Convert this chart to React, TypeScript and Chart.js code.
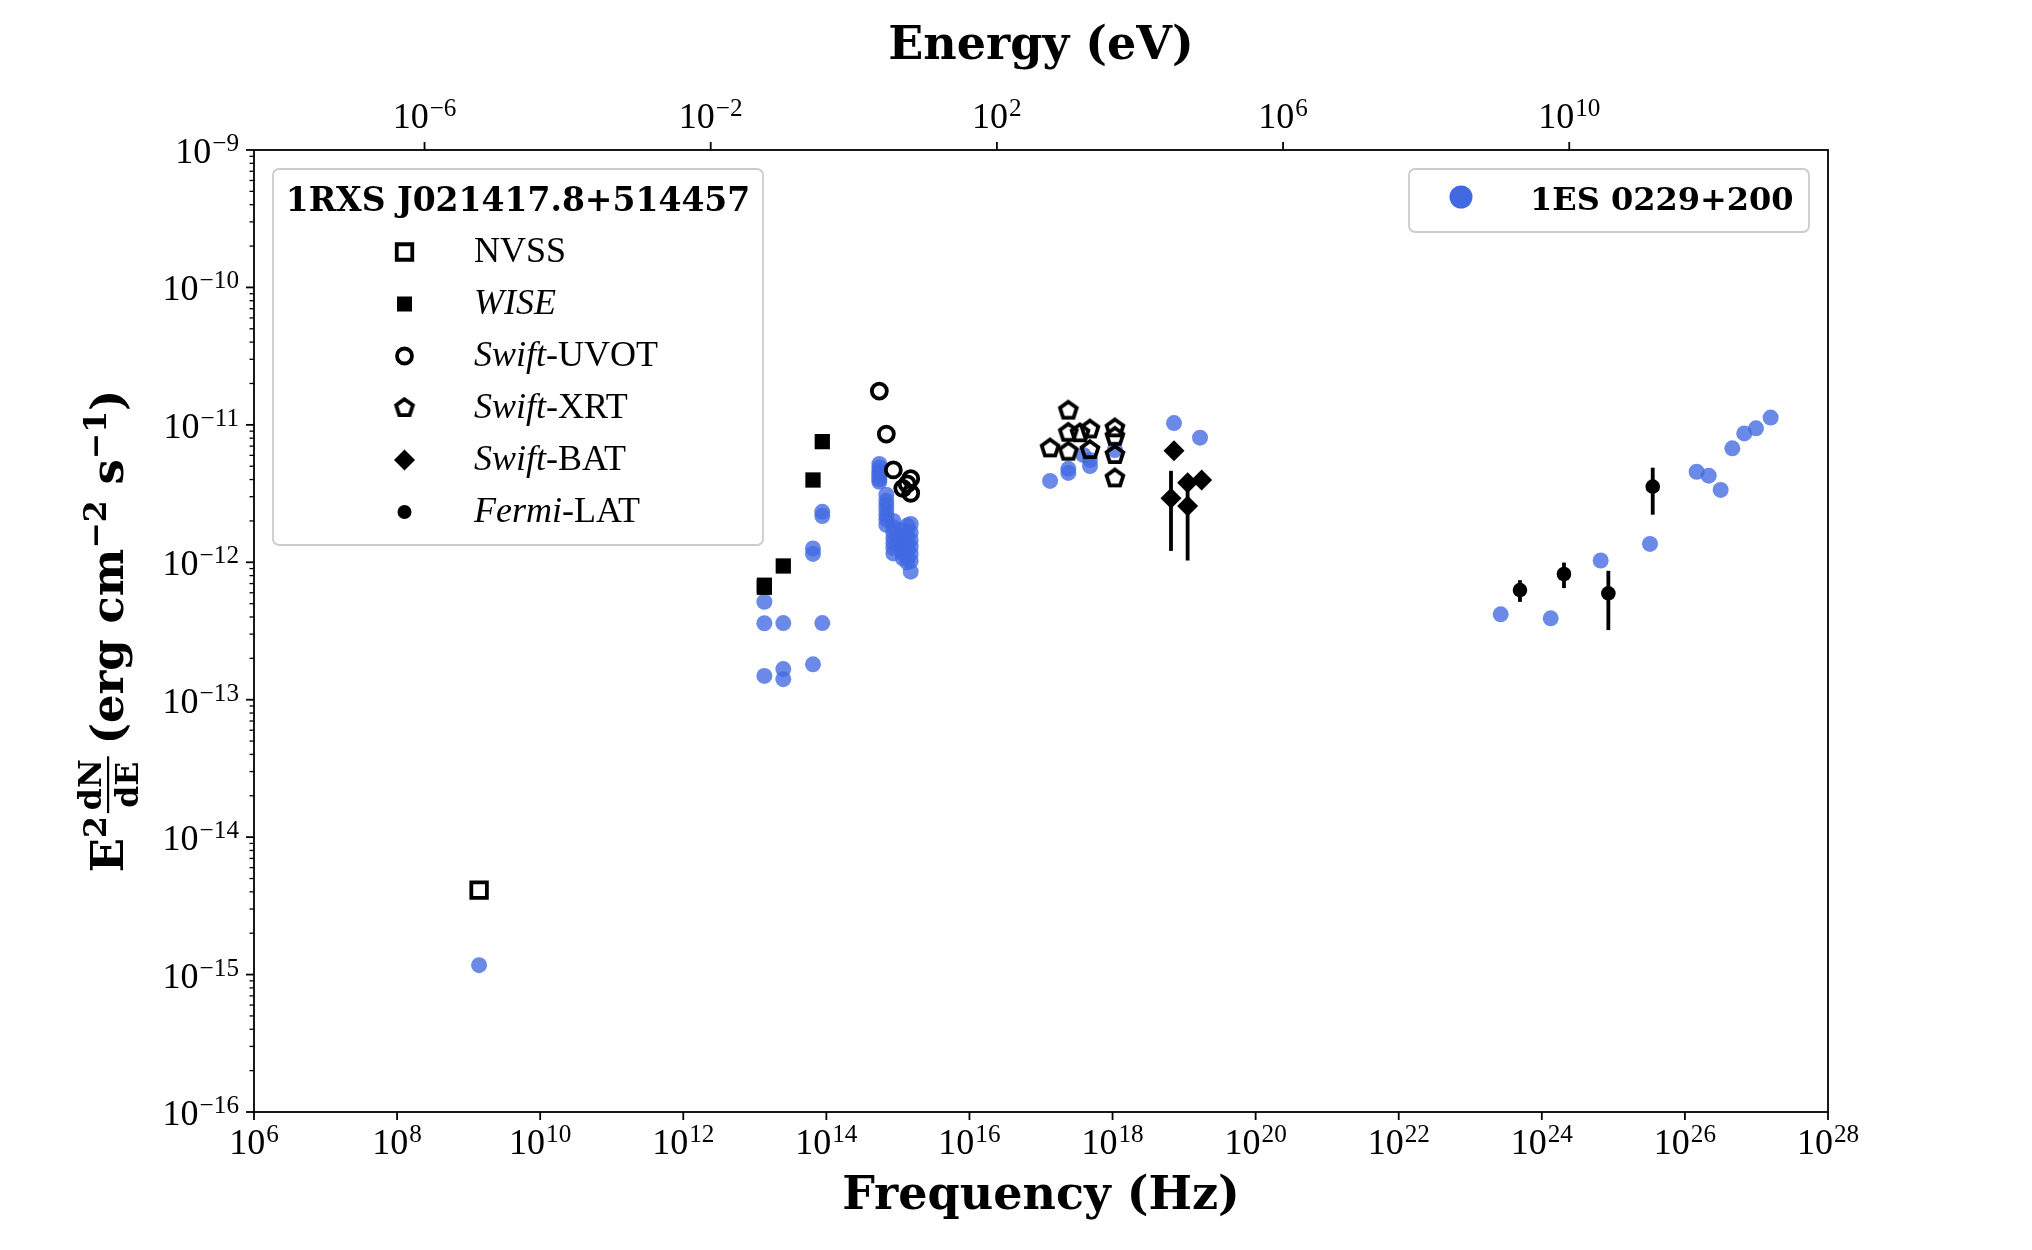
import React, { useEffect, useRef } from 'react';
import { Chart, registerables } from 'chart.js';

Chart.register(...registerables);

// Planck constant in eV s, links the frequency axis to the photon-energy axis
const H_EV = 4.135667696e-15;

// Tick exponents (powers of ten)
const freqTickExp = [6, 8, 10, 12, 14, 16, 18, 20, 22, 24, 26, 28];
const energyTickExp = [-6, -2, 2, 6, 10];
const fluxTickExp = [-16, -15, -14, -13, -12, -11, -10, -9];

// 1RXS J021417.8+514457 — frequency (Hz) and E^2 dN/dE (erg cm^-2 s^-1)
const nvssFreq = [1.40e9];
const nvssFlux = [4.12e-15];

const wiseFreq = [8.77e13, 6.50e13, 2.50e13, 1.36e13, 1.36e13];
const wiseFlux = [7.55e-12, 3.97e-12, 9.40e-13, 6.81e-13, 6.58e-13];

const uvotFreq = [5.50e14, 6.89e14, 8.63e14, 1.17e15, 1.35e15, 1.51e15, 1.51e15];
const uvotFlux = [1.76e-11, 8.57e-12, 4.70e-12, 3.45e-12, 3.72e-12, 4.06e-12, 3.18e-12];

const xrtFreq = [1.34e17, 2.41e17, 2.41e17, 2.41e17, 3.51e17, 4.84e17, 4.84e17, 1.08e18, 1.08e18, 1.08e18, 1.08e18];
const xrtFlux = [6.75e-12, 1.27e-11, 8.77e-12, 6.38e-12, 8.69e-12, 9.27e-12, 6.56e-12, 9.44e-12, 8.20e-12, 6.04e-12, 4.08e-12];

const batFreq = [7.23e18, 6.56e18, 1.12e19, 1.12e19, 1.76e19];
const batFlux = [6.49e-12, 2.92e-12, 3.79e-12, 2.57e-12, 3.97e-12];
const batErr = [0, 1.71e-12, 0, 1.54e-12, 0];

const latFreq = [4.95e23, 2.04e24, 8.51e24, 3.55e25];
const latFlux = [6.28e-13, 8.22e-13, 5.94e-13, 3.55e-12];
const latErr = [1.13e-13, 1.73e-13, 2.73e-13, 1.33e-12];

// 1ES 0229+200 — comparison source
const refFreq = [
  1.40e9,
  1.36e13, 1.36e13, 1.36e13, 2.50e13, 2.50e13, 2.50e13,
  6.50e13, 6.50e13, 6.50e13, 8.77e13, 8.77e13, 8.77e13,
  5.50e14, 5.50e14, 5.50e14, 5.50e14, 5.50e14, 5.50e14, 5.50e14,
  6.89e14, 6.89e14, 6.89e14, 6.89e14, 6.89e14, 6.89e14, 6.89e14,
  8.63e14, 8.63e14, 8.63e14, 8.63e14, 8.63e14, 8.63e14, 8.63e14,
  1.17e15, 1.17e15, 1.17e15, 1.17e15, 1.17e15, 1.17e15,
  1.35e15, 1.35e15, 1.35e15, 1.35e15, 1.35e15, 1.35e15,
  1.51e15, 1.51e15, 1.51e15, 1.51e15, 1.51e15, 1.51e15, 1.51e15,
  1.34e17, 2.41e17, 2.41e17, 3.90e17, 4.84e17, 4.84e17, 1.08e18,
  7.23e18, 1.67e19,
  2.66e23, 1.33e24, 6.65e24, 3.25e25, 1.46e26, 2.15e26, 3.16e26, 4.60e26, 6.76e26, 9.86e26, 1.58e27,
];
const refFlux = [
  1.17e-15,
  5.16e-13, 3.60e-13, 1.49e-13, 3.61e-13, 1.67e-13, 1.41e-13,
  1.26e-12, 1.15e-12, 1.81e-13, 2.33e-12, 2.17e-12, 3.61e-13,
  5.2e-12, 4.9e-12, 4.6e-12, 4.4e-12, 4.2e-12, 4.0e-12, 3.85e-12,
  3.1e-12, 2.8e-12, 2.6e-12, 2.4e-12, 2.2e-12, 2.05e-12, 1.87e-12,
  2.0e-12, 1.8e-12, 1.65e-12, 1.5e-12, 1.38e-12, 1.27e-12, 1.16e-12,
  1.72e-12, 1.55e-12, 1.4e-12, 1.28e-12, 1.17e-12, 1.07e-12,
  1.85e-12, 1.6e-12, 1.4e-12, 1.25e-12, 1.1e-12, 1.0e-12,
  1.9e-12, 1.65e-12, 1.45e-12, 1.3e-12, 1.15e-12, 1.02e-12, 8.55e-13,
  3.91e-12, 4.79e-12, 4.47e-12, 6.04e-12, 5.55e-12, 5.02e-12, 6.56e-12,
  1.03e-11, 8.07e-12,
  4.18e-13, 3.91e-13, 1.03e-12, 1.36e-12, 4.56e-12, 4.27e-12, 3.36e-12, 6.75e-12, 8.67e-12, 9.44e-12, 1.13e-11,
];

const targetName = '1RXS J021417.8+514457';
const refName = '1ES 0229+200';
// Legend rows: marker kind and label pieces (italic flag per piece)
const legendRows: { kind: string; parts: [string, boolean][] }[] = [
  { kind: 'nvss', parts: [['NVSS', false]] },
  { kind: 'wise', parts: [['WISE', true]] },
  { kind: 'uvot', parts: [['Swift', true], ['-UVOT', false]] },
  { kind: 'xrt', parts: [['Swift', true], ['-XRT', false]] },
  { kind: 'bat', parts: [['Swift', true], ['-BAT', false]] },
  { kind: 'lat', parts: [['Fermi', true], ['-LAT', false]] },
];

const BLUE = 'rgba(65,105,225,0.78)';
const BLUE_SOLID = '#4169E1';
const SERIF = '"Liberation Serif", serif';
const BOLD = '"DejaVu Serif", serif';
const MINUS = '\u2212';
const OPEN_LW = 3.8;

function makePentagon(R: number, lw: number): HTMLCanvasElement {
  const size = Math.ceil(2 * R + lw + 4);
  const c = document.createElement('canvas');
  c.width = size;
  c.height = size;
  const g = c.getContext('2d')!;
  g.translate(size / 2, size / 2);
  g.beginPath();
  for (let k = 0; k < 5; k++) {
    const a = -Math.PI / 2 + (k * 2 * Math.PI) / 5;
    const px = R * Math.cos(a);
    const py = R * Math.sin(a);
    if (k === 0) g.moveTo(px, py);
    else g.lineTo(px, py);
  }
  g.closePath();
  g.lineWidth = lw;
  g.lineJoin = 'miter';
  g.strokeStyle = '#000';
  g.stroke();
  return c;
}

function expText(v: number): string {
  const e = Math.round(Math.log10(v));
  return e < 0 ? MINUS + String(-e) : String(e);
}

// "10" with a raised exponent, anchored at x (center or right edge)
function drawPow(ctx: CanvasRenderingContext2D, exp: string, x: number, baseline: number, align: 'center' | 'right') {
  const size = 36;
  const sup = size * 0.7;
  ctx.font = `${size}px ${SERIF}`;
  const wb = ctx.measureText('10').width;
  ctx.font = `${sup}px ${SERIF}`;
  const ws = ctx.measureText(exp).width;
  const gap = 1;
  const total = wb + gap + ws;
  const x0 = align === 'center' ? x - total / 2 : x - total;
  ctx.textAlign = 'left';
  ctx.textBaseline = 'alphabetic';
  ctx.font = `${size}px ${SERIF}`;
  ctx.fillText('10', x0, baseline);
  ctx.font = `${sup}px ${SERIF}`;
  ctx.fillText(exp, x0 + wb + gap, baseline - 12);
}

function drawMarker(ctx: CanvasRenderingContext2D, kind: string, x: number, y: number, pent: HTMLCanvasElement) {
  ctx.save();
  ctx.fillStyle = '#000';
  ctx.strokeStyle = '#000';
  ctx.beginPath();
  if (kind === 'nvss') {
    ctx.lineWidth = OPEN_LW;
    const s = 15.5;
    ctx.rect(x - s / 2, y - s / 2, s, s);
    ctx.stroke();
  } else if (kind === 'wise') {
    const s = 15;
    ctx.rect(x - s / 2, y - s / 2, s, s);
    ctx.fill();
  } else if (kind === 'uvot') {
    ctx.lineWidth = OPEN_LW;
    ctx.arc(x, y, 7.5, 0, Math.PI * 2);
    ctx.stroke();
  } else if (kind === 'xrt') {
    ctx.drawImage(pent, x - pent.width / 2, y - pent.height / 2);
  } else if (kind === 'bat') {
    const r = 10.5;
    ctx.moveTo(x, y - r);
    ctx.lineTo(x + r, y);
    ctx.lineTo(x, y + r);
    ctx.lineTo(x - r, y);
    ctx.closePath();
    ctx.fill();
  } else if (kind === 'lat') {
    ctx.arc(x, y, 7, 0, Math.PI * 2);
    ctx.fill();
  }
  ctx.restore();
}

function legendBox(ctx: CanvasRenderingContext2D, x0: number, y0: number, x1: number, y1: number) {
  ctx.save();
  ctx.beginPath();
  ctx.roundRect(x0, y0, x1 - x0, y1 - y0, 6);
  ctx.fillStyle = 'rgba(255,255,255,0.8)';
  ctx.fill();
  ctx.lineWidth = 1.8;
  ctx.strokeStyle = '#cccccc';
  ctx.stroke();
  ctx.restore();
}

function drawYTitle(ctx: CanvasRenderingContext2D, cx: number, cy: number) {
  const F = 45;
  const S = 31.5;
  const big = `bold ${F}px ${BOLD}`;
  const small = `bold ${S}px ${BOLD}`;
  ctx.save();
  ctx.translate(cx, cy);
  ctx.rotate(-Math.PI / 2);
  ctx.fillStyle = '#000';
  ctx.textAlign = 'left';
  ctx.textBaseline = 'alphabetic';
  const m = (f: string, t: string) => {
    ctx.font = f;
    return ctx.measureText(t).width;
  };
  const wE = m(big, 'E');
  const w2 = m(small, '2');
  const wNum = m(small, 'dN');
  const wDen = m(small, 'dE');
  const wFrac = Math.max(wNum, wDen) + 6;
  const wA = m(big, '(erg cm');
  const wm2 = m(small, MINUS + '2');
  const wS = m(big, ' s');
  const wm1 = m(small, MINUS + '1');
  const wP = m(big, ')');
  const g1 = 3;
  const g2 = 12;
  const total = wE + w2 + g1 + wFrac + g2 + wA + wm2 + wS + wm1 + wP;
  let u = -total / 2;
  ctx.font = big;
  ctx.fillText('E', u, 0);
  u += wE;
  ctx.font = small;
  ctx.fillText('2', u, -17);
  u += w2 + g1;
  // fraction dN / dE
  const barV = -15;
  ctx.fillRect(u, barV - 1, wFrac, 2.2);
  ctx.font = small;
  ctx.fillText('dN', u + (wFrac - wNum) / 2, barV - 7);
  ctx.fillText('dE', u + (wFrac - wDen) / 2, barV + 30);
  u += wFrac + g2;
  ctx.font = big;
  ctx.fillText('(erg cm', u, 0);
  u += wA;
  ctx.font = small;
  ctx.fillText(MINUS + '2', u, -17);
  u += wm2;
  ctx.font = big;
  ctx.fillText(' s', u, 0);
  u += wS;
  ctx.font = small;
  ctx.fillText(MINUS + '1', u, -17);
  u += wm1;
  ctx.font = big;
  ctx.fillText(')', u, 0);
  ctx.restore();
}

export default function App() {
  const ref = useRef<HTMLCanvasElement>(null);

  useEffect(() => {
    const canvas = ref.current;
    if (!canvas) return;
    const pent = makePentagon(8.8, OPEN_LW);
    const pts = (xs: number[], ys: number[]) => xs.map((x, i) => ({ x, y: ys[i] }));

    const errorBars = {
      id: 'errorBars',
      beforeDatasetsDraw(chart: any) {
        const { ctx, scales } = chart;
        const x = scales.x;
        const y = scales.y;
        ctx.save();
        ctx.strokeStyle = '#000';
        ctx.lineWidth = 3.8;
        ctx.lineCap = 'butt';
        chart.data.datasets.forEach((ds: any) => {
          if (!ds.yErr) return;
          ds.data.forEach((p: any, i: number) => {
            const e = ds.yErr[i];
            if (!e) return;
            const px = x.getPixelForValue(p.x);
            ctx.beginPath();
            ctx.moveTo(px, y.getPixelForValue(p.y + e));
            ctx.lineTo(px, y.getPixelForValue(p.y - e));
            ctx.stroke();
          });
        });
        ctx.restore();
      },
    };

    const decorations = {
      id: 'decorations',
      afterDraw(chart: any) {
        const { ctx, chartArea: a, scales } = chart;
        const x = scales.x;
        const x2 = scales.x2;
        const y = scales.y;
        ctx.save();
        ctx.fillStyle = '#000';
        ctx.strokeStyle = '#000';

        // frame
        ctx.lineWidth = 1.8;
        ctx.strokeRect(a.left, a.top, a.right - a.left, a.bottom - a.top);

        // bottom axis ticks and labels
        x.ticks.forEach((t: any) => {
          const px = x.getPixelForValue(t.value);
          ctx.lineWidth = 1.8;
          ctx.beginPath();
          ctx.moveTo(px, a.bottom);
          ctx.lineTo(px, a.bottom + 8);
          ctx.stroke();
          drawPow(ctx, expText(t.value), px, a.bottom + 42, 'center');
        });

        // top (energy) axis ticks and labels
        x2.ticks.forEach((t: any) => {
          const px = x2.getPixelForValue(t.value);
          ctx.lineWidth = 1.8;
          ctx.beginPath();
          ctx.moveTo(px, a.top);
          ctx.lineTo(px, a.top - 8);
          ctx.stroke();
          drawPow(ctx, expText(t.value), px, a.top - 22, 'center');
        });

        // left axis: major and minor ticks
        y.ticks.forEach((t: any) => {
          const py = y.getPixelForValue(t.value);
          ctx.lineWidth = 1.8;
          ctx.beginPath();
          ctx.moveTo(a.left, py);
          ctx.lineTo(a.left - 8, py);
          ctx.stroke();
          drawPow(ctx, expText(t.value), a.left - 15, py + 13, 'right');
          if (t.value < 1e-9) {
            for (let k = 2; k <= 9; k++) {
              const pm = y.getPixelForValue(k * t.value);
              ctx.lineWidth = 1.3;
              ctx.beginPath();
              ctx.moveTo(a.left, pm);
              ctx.lineTo(a.left - 4.5, pm);
              ctx.stroke();
            }
          }
        });

        // axis titles
        const midX = (a.left + a.right) / 2;
        ctx.textAlign = 'center';
        ctx.textBaseline = 'alphabetic';
        ctx.font = `bold 46px ${BOLD}`;
        ctx.fillText('Energy (eV)', midX, 59);
        ctx.fillText('Frequency (Hz)', midX, a.bottom + 97);
        drawYTitle(ctx, 123, (a.top + a.bottom) / 2);

        // legend for the target source
        legendBox(ctx, 273, 169, 763, 545);
        ctx.textAlign = 'center';
        ctx.font = `bold 33px ${BOLD}`;
        ctx.fillText(targetName, 518, 211);
        const rowY = [252, 304, 356, 408, 460, 512];
        legendRows.forEach((row, i) => {
          drawMarker(ctx, row.kind, 404.5, rowY[i], pent);
          let tx = 474;
          ctx.textAlign = 'left';
          row.parts.forEach(([txt, it]) => {
            ctx.font = `${it ? 'italic ' : ''}36px ${SERIF}`;
            ctx.fillText(txt, tx, rowY[i] + 10);
            tx += ctx.measureText(txt).width;
          });
        });

        // legend for the comparison source
        legendBox(ctx, 1409, 169, 1809, 232);
        ctx.beginPath();
        ctx.fillStyle = BLUE_SOLID;
        ctx.arc(1461, 197, 11.5, 0, Math.PI * 2);
        ctx.fill();
        ctx.fillStyle = '#000';
        ctx.textAlign = 'left';
        ctx.font = `bold 32px ${BOLD}`;
        ctx.fillText(refName, 1530, 210);

        ctx.restore();
      },
    };

    const powTicks = (exps: number[]) => (scale: any) => {
      scale.ticks = exps.map((e) => ({ value: Math.pow(10, e) }));
    };

    const chart = new Chart(canvas, {
      type: 'scatter',
      data: {
        datasets: [
          {
            label: 'NVSS',
            data: pts(nvssFreq, nvssFlux),
            pointStyle: 'rect',
            pointRadius: 11,
            borderWidth: OPEN_LW,
            borderColor: '#000',
            backgroundColor: 'rgba(0,0,0,0)',
          },
          {
            label: 'WISE',
            data: pts(wiseFreq, wiseFlux),
            pointStyle: 'rect',
            pointRadius: 10.8,
            borderWidth: 0,
            borderColor: '#000',
            backgroundColor: '#000',
          },
          {
            label: 'Swift-UVOT',
            data: pts(uvotFreq, uvotFlux),
            pointStyle: 'circle',
            pointRadius: 7.5,
            borderWidth: OPEN_LW,
            borderColor: '#000',
            backgroundColor: 'rgba(0,0,0,0)',
          },
          {
            label: 'Swift-XRT',
            data: pts(xrtFreq, xrtFlux),
            pointStyle: pent,
            pointRadius: 9,
            borderColor: '#000',
            backgroundColor: 'rgba(0,0,0,0)',
          },
          {
            label: 'Swift-BAT',
            data: pts(batFreq, batFlux),
            yErr: batErr,
            pointStyle: 'rectRot',
            pointRadius: 10.5,
            borderWidth: 0,
            borderColor: '#000',
            backgroundColor: '#000',
          } as any,
          {
            label: 'Fermi-LAT',
            data: pts(latFreq, latFlux),
            yErr: latErr,
            pointStyle: 'circle',
            pointRadius: 7.3,
            borderWidth: 0,
            borderColor: '#000',
            backgroundColor: '#000',
          } as any,
          {
            label: refName,
            data: pts(refFreq, refFlux),
            pointStyle: 'circle',
            pointRadius: 8,
            borderWidth: 0,
            backgroundColor: BLUE,
            borderColor: BLUE,
          },
        ],
      },
      options: {
        animation: false,
        responsive: false,
        devicePixelRatio: 1,
        events: [],
        layout: { padding: { left: 254, top: 150, right: 2032 - 1828, bottom: 1250 - 1112 } },
        plugins: { legend: { display: false }, tooltip: { enabled: false } },
        scales: {
          x: {
            type: 'logarithmic',
            position: 'bottom',
            min: 1e6,
            max: 1e28,
            grid: { display: false },
            border: { display: false },
            ticks: { display: false },
            afterBuildTicks: powTicks(freqTickExp),
            afterFit: (s: any) => {
              s.height = 0;
            },
          },
          x2: {
            type: 'logarithmic',
            axis: 'x',
            position: 'top',
            min: 1e6 * H_EV,
            max: 1e28 * H_EV,
            grid: { display: false },
            border: { display: false },
            ticks: { display: false },
            afterBuildTicks: powTicks(energyTickExp),
            afterFit: (s: any) => {
              s.height = 0;
            },
          },
          y: {
            type: 'logarithmic',
            position: 'left',
            min: 1e-16,
            max: 1e-9,
            grid: { display: false },
            border: { display: false },
            ticks: { display: false },
            afterBuildTicks: powTicks(fluxTickExp),
            afterFit: (s: any) => {
              s.width = 0;
            },
          },
        } as any,
      },
      plugins: [errorBars, decorations],
    } as any);

    return () => chart.destroy();
  }, []);

  return (
    <div style={{ position: 'fixed', left: 0, top: 0, width: 2032, height: 1250, background: '#fff' }}>
      <canvas ref={ref} width={2032} height={1250} style={{ display: 'block', width: 2032, height: 1250 }} />
    </div>
  );
}
